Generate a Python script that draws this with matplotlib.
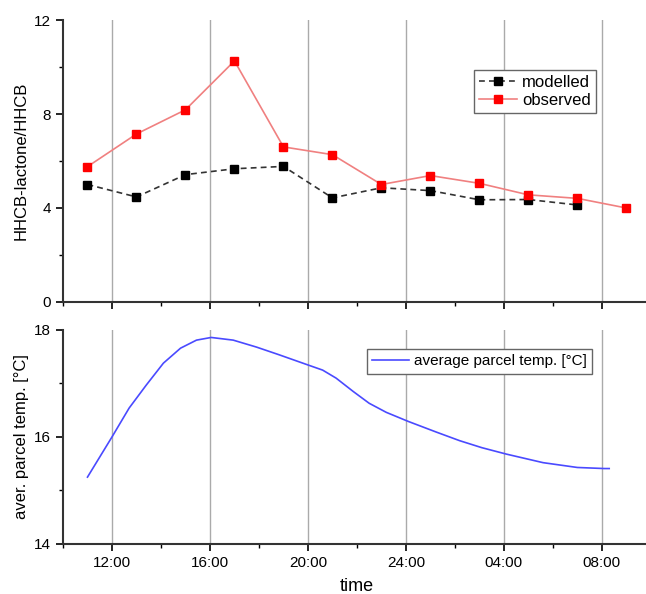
import matplotlib
matplotlib.use('Agg')
import matplotlib.pyplot as plt
from matplotlib.ticker import MultipleLocator

plt.rcParams['font.family'] = ['Liberation Sans', 'DejaVu Sans']

# hours counted from midnight of the first day
ratio_hours_obs = [11, 13, 15, 17, 19, 21, 23, 25, 27, 29, 31, 33]
observed = [5.76, 7.15, 8.18, 10.26, 6.6, 6.27, 5.0, 5.38, 5.05, 4.56, 4.41, 4.0]
ratio_hours_mod = [11, 13, 15, 17, 19, 21, 23, 25, 27, 29, 31]
modelled = [5.0, 4.47, 5.42, 5.67, 5.77, 4.43, 4.86, 4.74, 4.35, 4.36, 4.13]

temp_hours = [11.0, 12.0, 12.7, 13.4, 14.1, 14.8, 15.45, 16.05, 16.95, 17.9, 18.8,
              20.1, 20.6, 21.15, 21.85, 22.5, 23.2, 24.1, 25.25, 26.2, 27.1, 28.1,
              29.6, 31.0, 32.1, 32.3]
temp = [15.25, 16.0, 16.54, 16.97, 17.38, 17.66, 17.81, 17.86, 17.81, 17.68, 17.54,
        17.33, 17.25, 17.1, 16.85, 16.63, 16.46, 16.29, 16.09, 15.93, 15.8, 15.68,
        15.52, 15.43, 15.41, 15.41]

tick_hours = [12, 16, 20, 24, 28, 32]
tick_labels = ['12:00', '16:00', '20:00', '24:00', '04:00', '08:00']

fig = plt.figure(figsize=(6.46, 5.94), dpi=100)
ax1 = fig.add_axes([0.0975, 0.4916, 0.910, 0.4747])
ax2 = fig.add_axes([0.0975, 0.0842, 0.910, 0.3603])

for ax in (ax1, ax2):
    ax.set_xlim(10, 34)
    ax.set_xticks(tick_hours)
    ax.xaxis.set_minor_locator(MultipleLocator(2))
    for s in ('top', 'right'):
        ax.spines[s].set_visible(False)
    for s in ('left', 'bottom'):
        ax.spines[s].set_linewidth(1.5)
        ax.spines[s].set_color('#333333')
    ax.tick_params(which='major', direction='out', length=5, width=1.2, labelsize=11)
    ax.tick_params(which='minor', direction='out', length=3, width=1.0)
    for h in tick_hours:
        ax.axvline(h, color='#aaaaaa', lw=1, zorder=0)

ax1.plot(ratio_hours_mod, modelled, ls=(0, (3.5, 2.5)), color='#333333', lw=1.2, marker='s',
         ms=6, mfc='black', mec='black', label='modelled')
ax1.plot(ratio_hours_obs, observed, ls='-', color='#f08080', lw=1.2, marker='s',
         ms=6, mfc='red', mec='red', label='observed')
ax1.set_ylim(0, 12)
ax1.set_yticks([0, 4, 8, 12])
ax1.yaxis.set_minor_locator(MultipleLocator(2))
ax1.set_xticklabels([])
ax1.set_ylabel('HHCB-lactone/HHCB', fontsize=12)
ax1.legend(loc='upper left', bbox_to_anchor=(0.699, 0.823), fontsize=12, fancybox=False,
           edgecolor='#666666', framealpha=1, handlelength=2.3, borderpad=0.3,
           labelspacing=0.2, handletextpad=0.3, borderaxespad=0, markerscale=0.85)

ax2.plot(temp_hours, temp, color='#4a4aff', lw=1.2, label='average parcel temp. [°C]')
ax2.set_ylim(14, 18)
ax2.set_yticks([14, 16, 18])
ax2.yaxis.set_minor_locator(MultipleLocator(1))
ax2.set_xticklabels(tick_labels)
ax2.set_ylabel('aver. parcel temp. [°C]', fontsize=12)
ax2.set_xlabel('time', fontsize=13, labelpad=6)
ax2.legend(loc='upper left', bbox_to_anchor=(0.517, 0.911), fontsize=11, fancybox=False,
           edgecolor='#666666', framealpha=1, handlelength=2.4, borderpad=0.35,
           handletextpad=0.35, borderaxespad=0)

fig.savefig('out.png', dpi=100)
